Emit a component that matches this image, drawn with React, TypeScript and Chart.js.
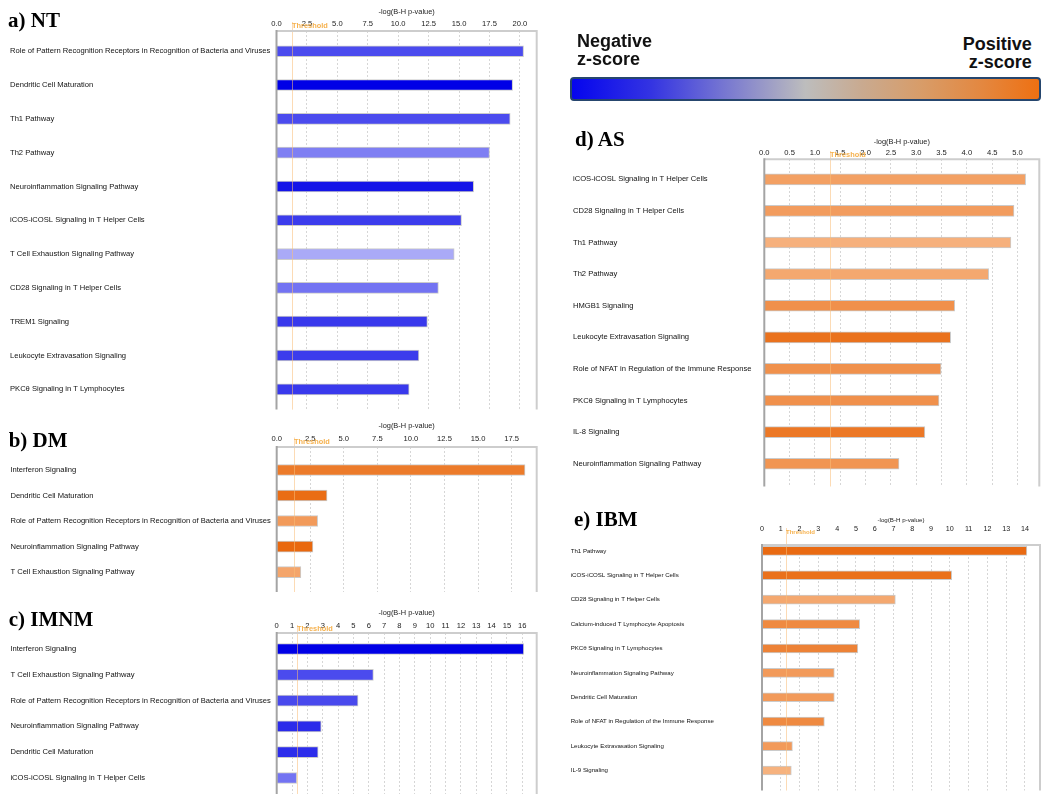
import React, { useEffect, useRef } from 'react';
import { Chart, registerables } from 'chart.js';

Chart.register(...registerables);

const SANS = '"Liberation Sans", Arial, sans-serif';
const SERIF = '"Liberation Serif", "Times New Roman", serif';
const THRESHOLD = 1.3;
const AXIS_TITLE = '-log(B-H p-value)';

// a) NT
const ntLabels = [
  'Role of Pattern Recognition Receptors in Recognition of Bacteria and Viruses',
  'Dendritic Cell Maturation',
  'Th1 Pathway',
  'Th2 Pathway',
  'Neuroinflammation Signaling Pathway',
  'iCOS-iCOSL Signaling in T Helper Cells',
  'T Cell Exhaustion Signaling Pathway',
  'CD28 Signaling in T Helper Cells',
  'TREM1 Signaling',
  'Leukocyte Extravasation Signaling',
  'PKCθ Signaling in T Lymphocytes',
];
const ntValues = [20.3, 19.4, 19.2, 17.5, 16.2, 15.2, 14.6, 13.3, 12.4, 11.7, 10.9];
const ntZScores = [-2.5, -4.2, -2.5, -1.45, -3.6, -2.8, -0.6, -1.7, -2.85, -2.8, -2.85];
const ntTicks = [0, 2.5, 5, 7.5, 10, 12.5, 15, 17.5, 20];

// b) DM
const dmLabels = [
  'Interferon Signaling',
  'Dendritic Cell Maturation',
  'Role of Pattern Recognition Receptors in Recognition of Bacteria and Viruses',
  'Neuroinflammation Signaling Pathway',
  'T Cell Exhaustion Signaling Pathway',
];
const dmValues = [18.5, 3.75, 3.05, 2.7, 1.8];
const dmZScores = [3.1, 3.65, 1.85, 3.85, 1.4];
const dmTicks = [0, 2.5, 5, 7.5, 10, 12.5, 15, 17.5];

// c) IMNM
const imnmLabels = [
  'Interferon Signaling',
  'T Cell Exhaustion Signaling Pathway',
  'Role of Pattern Recognition Receptors in Recognition of Bacteria and Viruses',
  'Neuroinflammation Signaling Pathway',
  'Dendritic Cell Maturation',
  'iCOS-iCOSL Signaling in T Helper Cells',
];
const imnmValues = [16.1, 6.3, 5.3, 2.9, 2.7, 1.3];
const imnmZScores = [-4.2, -2.5, -2.55, -3.15, -3.1, -1.7];
const imnmTicks = [0, 1, 2, 3, 4, 5, 6, 7, 8, 9, 10, 11, 12, 13, 14, 15, 16];

// d) AS
const asLabels = [
  'iCOS-iCOSL Signaling in T Helper Cells',
  'CD28 Signaling in T Helper Cells',
  'Th1 Pathway',
  'Th2 Pathway',
  'HMGB1 Signaling',
  'Leukocyte Extravasation Signaling',
  'Role of NFAT in Regulation of the Immune Response',
  'PKCθ Signaling in T Lymphocytes',
  'IL-8 Signaling',
  'Neuroinflammation Signaling Pathway',
];
const asValues = [5.16, 4.93, 4.87, 4.43, 3.76, 3.68, 3.49, 3.45, 3.17, 2.66];
const asZScores = [1.6, 1.75, 0.95, 1.3, 2.25, 3.45, 2.2, 2.25, 3.2, 2.05];
const asTicks = [0, 0.5, 1, 1.5, 2, 2.5, 3, 3.5, 4, 4.5, 5];

// e) IBM
const ibmLabels = [
  'Th1 Pathway',
  'iCOS-iCOSL Signaling in T Helper Cells',
  'CD28 Signaling in T Helper Cells',
  'Calcium-induced T Lymphocyte Apoptosis',
  'PKCθ Signaling in T Lymphocytes',
  'Neuroinflammation Signaling Pathway',
  'Dendritic Cell Maturation',
  'Role of NFAT in Regulation of the Immune Response',
  'Leukocyte Extravasation Signaling',
  'IL-9 Signaling',
];
const ibmValues = [14.1, 10.1, 7.1, 5.2, 5.1, 3.85, 3.85, 3.32, 1.62, 1.56];
const ibmZScores = [3.75, 3.5, 1.3, 2.5, 2.8, 1.85, 1.85, 2.5, 1.85, 0.9];
const ibmTicks = [0, 1, 2, 3, 4, 5, 6, 7, 8, 9, 10, 11, 12, 13, 14];

function zColor(z: number): string {
  const t = Math.min(Math.abs(z) / 4, 1);
  if (z < 0) {
    const r = Math.round(200 * (1 - t));
    const b = Math.round(250 - 20 * t);
    return `rgb(${r},${r},${b})`;
  }
  return `rgb(${Math.round(250 - 18 * t)},${Math.round(200 - 100 * t)},${Math.round(160 - 152 * t)})`;
}

const panels: any[] = [
  {
    id: 'a', title: 'a) NT', titleX: 8, titleBase: 28,
    labels: ntLabels, values: ntValues, z: ntZScores, ticks: ntTicks, decimals: 1, xMax: 21.38,
    canvas: { left: 0, top: 0, width: 545, height: 425 },
    plot: { left: 276.5, top: 31, right: 536.7, bottom: 409.6 },
    labelLeft: 10, rowMin: -0.598, rowMax: 10.6,
    titleY: 12, tickY: 23.5, thrY: 26, bar: 11,
    labelFont: 7.6, tickFont: 7.6, titleFont: 7.4, thrFont: 7.4,
  },
  {
    id: 'b', title: 'b) DM', titleX: 8.7, titleBase: 447.7,
    labels: dmLabels, values: dmValues, z: dmZScores, ticks: dmTicks, decimals: 1, xMax: 19.37,
    canvas: { left: 0, top: 415, width: 545, height: 195 },
    plot: { left: 276.7, top: 447, right: 536.7, bottom: 592 },
    labelLeft: 10.4, rowMin: -0.9, rowMax: 4.78,
    titleY: 425.5, tickY: 439, thrY: 441.5, bar: 11,
    labelFont: 7.6, tickFont: 7.6, titleFont: 7.4, thrFont: 7.4,
  },
  {
    id: 'c', title: 'c) IMNM', titleX: 8.7, titleBase: 627,
    labels: imnmLabels, values: imnmValues, z: imnmZScores, ticks: imnmTicks, decimals: 0, xMax: 16.94,
    canvas: { left: 0, top: 598, width: 545, height: 203 },
    plot: { left: 276.7, top: 633, right: 536.7, bottom: 794 },
    labelLeft: 10.4, rowMin: -0.62, rowMax: 5.62,
    titleY: 613.3, tickY: 625.7, thrY: 629, bar: 11,
    labelFont: 7.6, tickFont: 7.6, titleFont: 7.4, thrFont: 7.4,
  },
  {
    id: 'd', title: 'd) AS', titleX: 575, titleBase: 146.7,
    labels: asLabels, values: asValues, z: asZScores, ticks: asTicks, decimals: 1, xMax: 5.43,
    canvas: { left: 560, top: 125, width: 490, height: 370 },
    plot: { left: 764.3, top: 159.3, right: 1039.3, bottom: 486.5 },
    labelLeft: 573, rowMin: -0.633, rowMax: 9.72,
    titleY: 141.7, tickY: 153, thrY: 155, bar: 11,
    labelFont: 7.6, tickFont: 7.6, titleFont: 7.4, thrFont: 7.4,
  },
  {
    id: 'e', title: 'e) IBM', titleX: 574, titleBase: 526.7,
    labels: ibmLabels, values: ibmValues, z: ibmZScores, ticks: ibmTicks, decimals: 0, xMax: 14.8,
    canvas: { left: 560, top: 505, width: 490, height: 296 },
    plot: { left: 762, top: 545, right: 1040, bottom: 790.5 },
    labelLeft: 570.7, rowMin: -0.24, rowMax: 9.82,
    titleY: 520, tickY: 529.3, thrY: 532, bar: 9,
    labelFont: 6.1, tickFont: 7.2, titleFont: 6.2, thrFont: 6,
  },
];

function framePlugin(p: any) {
  return {
    id: 'frame_' + p.id,
    afterDatasetsDraw(chart: any) {
      const { ctx, chartArea: a } = chart;
      const tx = Math.round(chart.scales.x.getPixelForValue(THRESHOLD)) + 0.5;
      ctx.save();
      ctx.strokeStyle = 'rgba(250,190,120,0.55)';
      ctx.lineWidth = 1;
      ctx.beginPath();
      ctx.moveTo(tx, p.thrY - p.canvas.top - 4);
      ctx.lineTo(tx, a.bottom);
      ctx.stroke();

      ctx.lineWidth = 2;
      ctx.strokeStyle = '#cdcdcd';
      ctx.beginPath();
      ctx.moveTo(a.left, a.top);
      ctx.lineTo(a.right, a.top);
      ctx.lineTo(a.right, a.bottom);
      ctx.stroke();
      ctx.strokeStyle = '#a4a4a4';
      ctx.beginPath();
      ctx.moveTo(a.left, a.top - 1);
      ctx.lineTo(a.left, a.bottom);
      ctx.stroke();

      ctx.globalAlpha = 0.9;
      ctx.fillStyle = '#f5a83a';
      ctx.font = `bold ${p.thrFont}px ${SANS}`;
      ctx.textAlign = 'left';
      ctx.textBaseline = 'middle';
      ctx.fillText('Threshold', tx - 0.5, p.thrY - p.canvas.top);
      ctx.restore();
    },
  };
}

function PanelChart({ p }: { p: any }) {
  const ref = useRef<HTMLCanvasElement>(null);
  useEffect(() => {
    const c = p.canvas;
    const pl = p.plot;
    const lh = (s: number) => s * 1.2;
    const chart = new Chart(ref.current as HTMLCanvasElement, {
      type: 'bar',
      data: {
        labels: p.labels.map((_: string, i: number) => i),
        datasets: [
          {
            data: p.values,
            backgroundColor: p.z.map(zColor),
            borderColor: 'rgba(200,200,200,0.95)',
            borderWidth: 1,
            borderSkipped: 'start',
            barThickness: p.bar,
          },
        ],
      },
      options: {
        indexAxis: 'y',
        animation: false,
        responsive: false,
        events: [],
        layout: {
          padding: {
            left: p.labelLeft - c.left,
            top: 0,
            right: c.left + c.width - pl.right,
            bottom: c.top + c.height - pl.bottom,
          },
        },
        plugins: { legend: { display: false }, tooltip: { enabled: false }, title: { display: false } },
        scales: {
          x: {
            type: 'linear',
            position: 'top',
            min: 0,
            max: p.xMax,
            bounds: 'data',
            afterBuildTicks: (s: any) => {
              s.ticks = p.ticks.map((v: number) => ({ value: v }));
            },
            ticks: {
              autoSkip: false,
              maxRotation: 0,
              padding: pl.top - p.tickY - lh(p.tickFont) / 2,
              font: { family: SANS, size: p.tickFont },
              color: '#222',
              callback: (v: any) => Number(v).toFixed(p.decimals),
            },
            grid: {
              drawTicks: false,
              lineWidth: 1,
              color: (ctx: any) => (ctx.tick && ctx.tick.value === 0 ? 'rgba(0,0,0,0)' : '#d6d6d6'),
            },
            border: { display: false, dash: [2, 2] },
            title: {
              display: true,
              text: AXIS_TITLE,
              color: '#222',
              font: { family: SANS, size: p.titleFont },
              padding: { top: p.titleY - c.top - lh(p.titleFont) / 2, bottom: 0 },
            },
            afterFit: (s: any) => {
              s.height = pl.top - c.top;
            },
          },
          y: {
            type: 'linear',
            reverse: true,
            min: p.rowMin,
            max: p.rowMax,
            bounds: 'data',
            offset: false,
            afterBuildTicks: (s: any) => {
              s.ticks = p.labels.map((_: string, i: number) => ({ value: i }));
            },
            ticks: {
              autoSkip: false,
              crossAlign: 'far',
              padding: 0,
              font: { family: SANS, size: p.labelFont },
              color: '#111',
              callback: (v: any) => p.labels[v] ?? '',
            },
            grid: { display: false, drawTicks: false },
            border: { display: false },
            afterFit: (s: any) => {
              s.width = pl.left - p.labelLeft;
            },
          },
        },
      } as any,
      plugins: [framePlugin(p)],
    });
    return () => chart.destroy();
  }, [p]);
  return (
    <canvas
      ref={ref}
      width={p.canvas.width}
      height={p.canvas.height}
      style={{
        position: 'absolute',
        left: p.canvas.left,
        top: p.canvas.top,
        width: p.canvas.width,
        height: p.canvas.height,
        display: 'block',
      }}
    />
  );
}

export default function App() {
  return (
    <div
      style={{
        position: 'absolute',
        left: 0,
        top: 0,
        width: 1050,
        height: 801,
        background: '#fff',
        overflow: 'hidden',
      }}
    >
      {panels.map((p) => (
        <PanelChart key={p.id} p={p} />
      ))}
      {panels.map((p) => (
        <div
          key={'t' + p.id}
          style={{
            position: 'absolute',
            left: p.titleX,
            top: p.titleBase - 17.6,
            fontFamily: SERIF,
            fontWeight: 'bold',
            fontSize: 21,
            lineHeight: '21px',
            color: '#000',
            whiteSpace: 'nowrap',
          }}
        >
          {p.title}
        </div>
      ))}
      <div
        style={{
          position: 'absolute',
          left: 577,
          top: 32,
          fontFamily: SANS,
          fontWeight: 'bold',
          fontSize: 18,
          lineHeight: '18px',
          color: '#111',
          whiteSpace: 'nowrap',
        }}
      >
        Negative
        <br />
        z-score
      </div>
      <div
        style={{
          position: 'absolute',
          right: 18.3,
          top: 35.4,
          textAlign: 'right',
          fontFamily: SANS,
          fontWeight: 'bold',
          fontSize: 18,
          lineHeight: '18px',
          color: '#111',
          whiteSpace: 'nowrap',
        }}
      >
        Positive
        <br />
        z-score
      </div>
      <div
        style={{
          position: 'absolute',
          left: 570,
          top: 76.7,
          width: 470.7,
          height: 24,
          boxSizing: 'border-box',
          border: '2px solid #26466e',
          borderRadius: 4,
          background:
            'linear-gradient(to right, #0505ee 0%, #3434e2 17%, #7474d2 32%, #bdbdbd 50%, #c9aa90 62%, #d89c68 75%, #e4873f 88%, #ee7012 100%)',
        }}
      />
    </div>
  );
}
